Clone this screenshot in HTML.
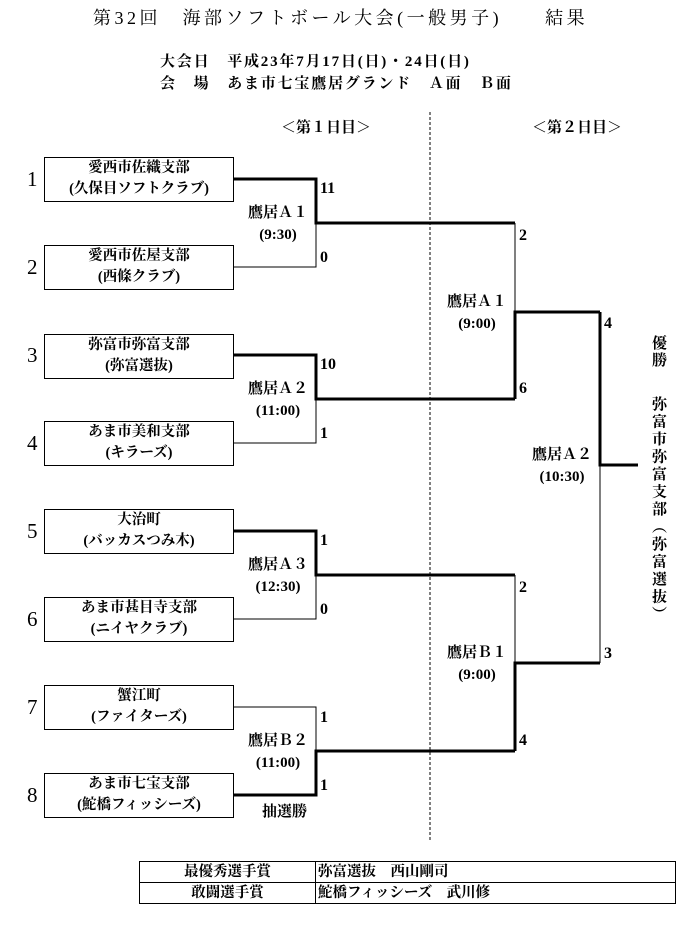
<!DOCTYPE html>
<html><head><meta charset="utf-8"><style>
html,body{margin:0;padding:0;background:#fff;}
body{width:683px;height:926px;position:relative;overflow:hidden;font-family:"Liberation Serif","Noto Serif CJK JP","Noto Sans CJK JP",serif;color:#000;}
.t{position:absolute;white-space:nowrap;font-weight:bold;}
.box{position:absolute;left:44px;width:188px;height:43px;border:1px solid #000;text-align:center;font-size:14.5px;font-weight:bold;line-height:21px;}
.n{position:absolute;left:27px;font-size:21px;}
.s{position:absolute;font-size:16px;font-weight:bold;}
.m{position:absolute;text-align:center;font-size:15px;font-weight:bold;line-height:22px;width:90px;}
svg{position:absolute;left:0;top:0;}
table{position:absolute;left:139px;top:861px;width:537px;border-collapse:collapse;font-size:14.5px;font-weight:bold;}
td{border:1px solid #000;height:20px;padding:0 2px;line-height:20px;}
</style></head><body>
<div class="t" style="left:93px;top:4px;font-size:18px;font-weight:normal;letter-spacing:3.5px;">第32回　海部ソフトボール大会(一般男子)　　結果</div>
<div class="t" style="left:160px;top:50px;font-size:15px;letter-spacing:1.8px;">大会日　平成23年7月17日(日)・24日(日)</div>
<div class="t" style="left:160px;top:72px;font-size:15px;letter-spacing:1.8px;">会　場　あま市七宝鷹居グランド　Ａ面　Ｂ面</div>
<div class="t" style="left:281px;top:116px;font-size:15px;">＜第１日目＞</div>
<div class="t" style="left:532px;top:116px;font-size:15px;">＜第２日目＞</div>

<svg width="683" height="926">
<line x1="430" y1="112" x2="430" y2="840" stroke="#000" stroke-width="1" stroke-dasharray="3,2"/>
<g fill="none" stroke="#000" stroke-linejoin="miter">
<path d="M233 267H316V222" stroke-width="1"/>
<path d="M233 443H316V399" stroke-width="1"/>
<path d="M233 619H316V575" stroke-width="1"/>
<path d="M233 707H316V751" stroke-width="1"/>
<path d="M233 179H316V223H515" stroke-width="3"/>
<path d="M233 355H316V399H515" stroke-width="3"/>
<path d="M233 531H316V575H515" stroke-width="3"/>
<path d="M233 795H316V751H515" stroke-width="3"/>
<path d="M515 223V312" stroke-width="1"/>
<path d="M515 399V312H600" stroke-width="3"/>
<path d="M515 575V663" stroke-width="1"/>
<path d="M515 751V663H600" stroke-width="3"/>
<path d="M600 663V465" stroke-width="1"/>
<path d="M600 312V465H638" stroke-width="3"/>
</g>
</svg>

<div class="n" style="top:167px;">1</div>
<div class="n" style="top:255px;">2</div>
<div class="n" style="top:343px;">3</div>
<div class="n" style="top:431px;">4</div>
<div class="n" style="top:519px;">5</div>
<div class="n" style="top:607px;">6</div>
<div class="n" style="top:695px;">7</div>
<div class="n" style="top:783px;">8</div>

<div class="box" style="top:157px;">愛西市佐織支部<br>(久保目ソフトクラブ)</div>
<div class="box" style="top:245px;">愛西市佐屋支部<br>(西條クラブ)</div>
<div class="box" style="top:334px;">弥富市弥富支部<br>(弥富選抜)</div>
<div class="box" style="top:421px;">あま市美和支部<br>(キラーズ)</div>
<div class="box" style="top:509px;">大治町<br>(バッカスつみ木)</div>
<div class="box" style="top:597px;">あま市甚目寺支部<br>(ニイヤクラブ)</div>
<div class="box" style="top:685px;">蟹江町<br>(ファイターズ)</div>
<div class="box" style="top:773px;">あま市七宝支部<br>(鮀橋フィッシーズ)</div>

<div class="m" style="left:233px;top:202px;">鷹居Ａ１<br>(9:30)</div>
<div class="m" style="left:233px;top:378px;">鷹居Ａ２<br>(11:00)</div>
<div class="m" style="left:233px;top:554px;">鷹居Ａ３<br>(12:30)</div>
<div class="m" style="left:233px;top:730px;">鷹居Ｂ２<br>(11:00)</div>
<div class="m" style="left:432px;top:291px;">鷹居Ａ１<br>(9:00)</div>
<div class="m" style="left:432px;top:642px;">鷹居Ｂ１<br>(9:00)</div>
<div class="m" style="left:517px;top:444px;">鷹居Ａ２<br>(10:30)</div>
<div class="t" style="left:262px;top:800px;font-size:15px;">抽選勝</div>

<div class="s" style="left:320px;top:180px;">11</div>
<div class="s" style="left:320px;top:249px;">0</div>
<div class="s" style="left:320px;top:356px;">10</div>
<div class="s" style="left:320px;top:425px;">1</div>
<div class="s" style="left:320px;top:532px;">1</div>
<div class="s" style="left:320px;top:601px;">0</div>
<div class="s" style="left:320px;top:709px;">1</div>
<div class="s" style="left:320px;top:777px;">1</div>
<div class="s" style="left:519px;top:227px;">2</div>
<div class="s" style="left:519px;top:380px;">6</div>
<div class="s" style="left:519px;top:579px;">2</div>
<div class="s" style="left:519px;top:732px;">4</div>
<div class="s" style="left:604px;top:315px;">4</div>
<div class="s" style="left:604px;top:645px;">3</div>

<div class="t" style="left:648px;top:335px;font-size:15px;writing-mode:vertical-rl;line-height:20px;letter-spacing:2px;">優勝</div>
<div class="t" style="left:648px;top:396px;font-size:15px;writing-mode:vertical-rl;line-height:20px;letter-spacing:2.5px;">弥富市弥富支部（弥富選抜）</div>

<table>
<tr><td style="width:171px;text-align:center;">最優秀選手賞</td><td>弥富選抜　西山剛司</td></tr>
<tr><td style="text-align:center;">敢闘選手賞</td><td>鮀橋フィッシーズ　武川修</td></tr>
</table>
</body></html>
